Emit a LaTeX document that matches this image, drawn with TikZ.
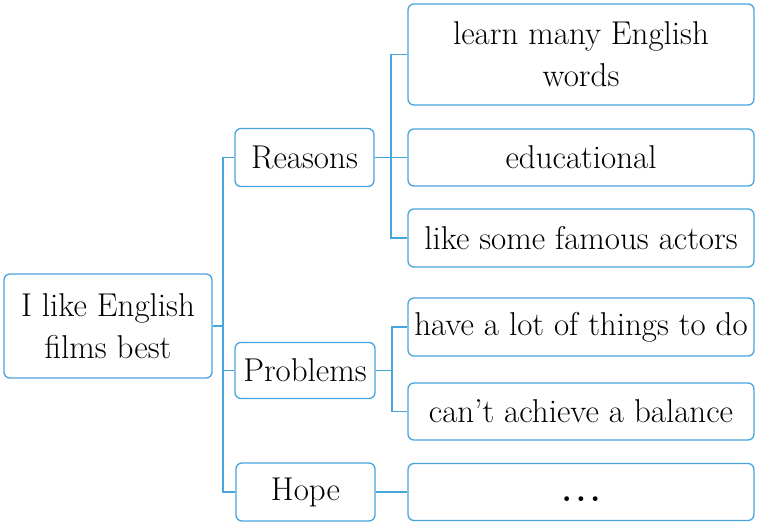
\documentclass[tikz,border=0pt]{standalone}
\usepackage{tikz}
\definecolor{mapblue}{RGB}{70,165,220}

\begin{document}
\begin{tikzpicture}[x=0.5pt,y=-0.5pt,
  box/.style={draw=mapblue,line width=0.65pt,rounded corners=3pt,align=center,inner sep=1pt,font=\fontsize{16.5}{21}\selectfont},
  link/.style={draw=mapblue,line width=0.65pt}]
\useasboundingbox (0,0) rectangle (765,528);

\node[box,minimum width=104pt,minimum height=52pt] (root) at (108,326) {I like English\\films best};
\node[box,minimum width=69.5pt,minimum height=29pt] (reasons) at (304.5,157.5) {Reasons};
\node[box,minimum width=70pt,minimum height=28pt] (problems) at (305,370.5) {Problems};
\node[box,minimum width=69.5pt,minimum height=29pt] (hope) at (305.5,492) {Hope};

\node[box,minimum width=173pt,minimum height=50.5pt] (words) at (581,54.5) {learn many English\\words};
\node[box,minimum width=173pt,minimum height=28.5pt] (educ) at (581,157.5) {educational};
\node[box,minimum width=173pt,minimum height=29pt] (actors) at (581,238) {like some famous actors};
\node[box,minimum width=173pt,minimum height=29pt] (things) at (581,327) {have a lot of things to do};
\node[box,minimum width=173pt,minimum height=28.5pt] (balance) at (581,411.5) {can't achieve a balance};
\node[box,minimum width=173pt,minimum height=28.5pt] (dots) at (581,492) {\raisebox{-5pt}[0pt][0pt]{\textbf{.}\hspace{0.12em}\textbf{.}\hspace{0.12em}\textbf{.}}};

\coordinate (trunk) at (223,0);
\coordinate (rtrunk) at (391,0);
\coordinate (ptrunk) at (392,0);

\draw[link] (root.east) -- (trunk |- root.east);
\draw[link] (reasons.west) -| (trunk |- hope.west) -- (hope.west);
\draw[link] (problems.west) -- (trunk |- problems.west);

\draw[link] (reasons.east) -- (educ.west);
\draw[link] (words.west) -| (rtrunk |- actors.west) -- (actors.west);

\draw[link] (problems.east) -- (ptrunk |- problems.east);
\draw[link] (things.west) -| (ptrunk |- balance.west) -- (balance.west);

\draw[link] (hope.east) -- (dots.west);
\end{tikzpicture}
\end{document}
